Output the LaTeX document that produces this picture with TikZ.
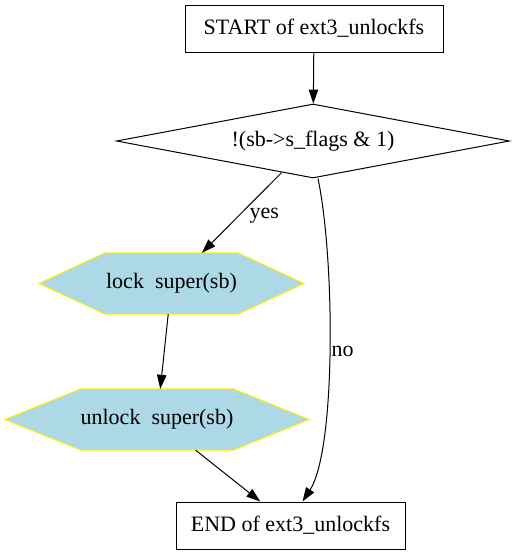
\documentclass[tikz,border=0pt]{standalone}
\usepackage{fontspec}
\setmainfont{Liberation Serif}
\newfontfamily\dotfont{Liberation Serif}
\usetikzlibrary{shapes.geometric,arrows.meta,calc,backgrounds}

\definecolor{hexfill}{RGB}{173,216,230}

\tikzset{
  every node/.style={font=\dotfont\fontsize{22}{26}\selectfont},
  box/.style={draw, line width=1pt, inner sep=2pt},
  cond/.style={diamond, draw, line width=1pt, aspect=5.3, inner sep=0pt},
  hexnode/.style={inner sep=0pt},
  edge/.style={-{Triangle[length=14pt,width=9.5pt]}, line width=1pt},
}

% hexagon drawn round a (plain) node
\newcommand{\hexbox}[1]{%
  \draw[yellow, fill=hexfill, line width=1pt] (#1.west)
    -- ($(#1.north west)!0.25!(#1.north east)$) -- ($(#1.north west)!0.75!(#1.north east)$)
    -- (#1.east)
    -- ($(#1.south west)!0.75!(#1.south east)$) -- ($(#1.south west)!0.25!(#1.south east)$)
    -- cycle;}

\begin{document}
\begin{tikzpicture}[x=1pt,y=1pt,yscale=-1,xscale=1]

\useasboundingbox (0,0) rectangle (513,555);

\node (start) at (314,28.5) [box, minimum width=258pt, minimum height=47pt] {START of ext3\_unlockfs};
\node (test) at (313,141) [cond, minimum width=393pt, minimum height=74pt] {!(sb->s\_flags \& 1)};
\node (lock) at (171.5,283.5) [hexnode, minimum width=265pt, minimum height=61pt] {};
\node (unlock) at (157,419.5) [hexnode, minimum width=304pt, minimum height=61pt] {};
\node (stop) at (290.5,525.5) [box, minimum width=229pt, minimum height=47pt] {END of ext3\_unlockfs};

\begin{scope}[on background layer]
\hexbox{lock}
\hexbox{unlock}
\end{scope}
\node at (lock) {lock\ \ super(sb)};
\node at (unlock) {unlock\ \ super(sb)};

\draw [edge] (start) -- (test);
\draw [edge] (test) -- node [midway, right, xshift=4pt, yshift=-3pt] {yes} (lock);
\draw [edge] ([xshift=5pt]test.south) .. controls (335,260) and (336,450) .. ([xshift=12pt]stop.north)
  node [pos=0.5, right, inner sep=2pt] {no};
\draw [edge] (lock) -- (unlock);
\draw [edge] (unlock) -- (stop);

\end{tikzpicture}
\end{document}
